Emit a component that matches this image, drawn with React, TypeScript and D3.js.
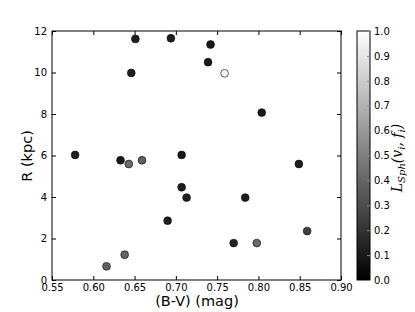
import React, { useEffect, useRef } from "react";
import * as d3 from "d3";

// (B-V) colour, radius R (kpc) and L_Sph value for each point
const bv = [0.578, 0.616, 0.633, 0.638, 0.643, 0.646, 0.651, 0.659, 0.690, 0.694, 0.707, 0.707, 0.713, 0.739, 0.742, 0.759, 0.770, 0.784, 0.798, 0.804, 0.849, 0.859];
const rad = [6.03, 0.66, 5.77, 1.22, 5.59, 9.98, 11.62, 5.77, 2.86, 11.65, 6.03, 4.47, 3.97, 10.5, 11.35, 9.96, 1.78, 3.97, 1.78, 8.07, 5.59, 2.36];
const lsph = [0.12, 0.38, 0.1, 0.4, 0.42, 0.12, 0.12, 0.38, 0.12, 0.12, 0.1, 0.12, 0.12, 0.1, 0.1, 0.95, 0.14, 0.12, 0.42, 0.1, 0.12, 0.25];

const xTicks = [0.55, 0.6, 0.65, 0.7, 0.75, 0.8, 0.85, 0.9];
const yTicks = [0, 2, 4, 6, 8, 10, 12];
const cTicks = [0, 0.1, 0.2, 0.3, 0.4, 0.5, 0.6, 0.7, 0.8, 0.9, 1.0];

const App = () => {
    const ref = useRef<SVGSVGElement>(null);

    useEffect(() => {
        const svg = d3.select(ref.current);
        svg.selectAll("*").remove();

        const W = 415, H = 312;
        const m = { left: 52, right: 341, top: 31, bottom: 280 };

        const x = d3.scaleLinear().domain([0.55, 0.9]).range([m.left, m.right]);
        const y = d3.scaleLinear().domain([0, 12]).range([m.bottom, m.top]);
        const gray = (v: number) => d3.interpolateRgb("#000", "#fff")(v);

        svg.attr("width", W).attr("height", H).style("font-family", "'DejaVu Sans', sans-serif");

        // frame
        svg.append("rect")
            .attr("x", m.left).attr("y", m.top)
            .attr("width", m.right - m.left).attr("height", m.bottom - m.top)
            .attr("fill", "white").attr("stroke", "black").attr("stroke-width", 1);

        // axes, ticks pointing inward on all four sides
        const bottom = svg.append("g").attr("transform", `translate(0,${m.bottom})`)
            .call(d3.axisBottom(x).tickValues(xTicks).tickFormat(d3.format(".2f")).tickSizeInner(-4).tickSizeOuter(0).tickPadding(4));
        const top = svg.append("g").attr("transform", `translate(0,${m.top})`)
            .call(d3.axisTop(x).tickValues(xTicks).tickFormat(() => "").tickSizeInner(-4).tickSizeOuter(0));
        const left = svg.append("g").attr("transform", `translate(${m.left},0)`)
            .call(d3.axisLeft(y).tickValues(yTicks).tickFormat(d3.format("d")).tickSizeInner(-4).tickSizeOuter(0).tickPadding(5));
        const right = svg.append("g").attr("transform", `translate(${m.right},0)`)
            .call(d3.axisRight(y).tickValues(yTicks).tickFormat(() => "").tickSizeInner(-4).tickSizeOuter(0));
        [bottom, top, left, right].forEach(g => {
            g.select(".domain").remove();
            g.selectAll("text").attr("font-size", 10).attr("fill", "black").style("font-family", "'DejaVu Sans', sans-serif");
        });

        // points
        svg.append("g").selectAll("circle")
            .data(bv.map((b, i) => ({ b, r: rad[i], v: lsph[i] })))
            .enter().append("circle")
            .attr("cx", d => x(d.b))
            .attr("cy", d => y(d.r))
            .attr("r", 3.9)
            .attr("fill", d => gray(d.v))
            .attr("stroke", "black")
            .attr("stroke-width", 0.6);

        // labels
        svg.append("text")
            .attr("x", 197).attr("y", 306)
            .attr("text-anchor", "middle").attr("font-size", 14.5)
            .text("(B-V) (mag)");
        svg.append("text")
            .attr("transform", `translate(32,156) rotate(-90)`)
            .attr("text-anchor", "middle").attr("font-size", 14.5)
            .text("R (kpc)");

        // colorbar
        const cb = { x: 357, w: 13 };
        const c = d3.scaleLinear().domain([0, 1]).range([m.bottom, m.top]);
        const grad = svg.append("defs").append("linearGradient")
            .attr("id", "cbgrad").attr("x1", 0).attr("y1", 1).attr("x2", 0).attr("y2", 0);
        grad.append("stop").attr("offset", "0%").attr("stop-color", gray(0));
        grad.append("stop").attr("offset", "100%").attr("stop-color", gray(1));
        svg.append("rect")
            .attr("x", cb.x).attr("y", m.top).attr("width", cb.w).attr("height", m.bottom - m.top)
            .attr("fill", "url(#cbgrad)").attr("stroke", "black").attr("stroke-width", 1);
        const cAxis = svg.append("g").attr("transform", `translate(${cb.x + cb.w},0)`)
            .call(d3.axisRight(c).tickValues(cTicks).tickFormat(d3.format(".1f")).tickSizeInner(-3).tickSizeOuter(0).tickPadding(4));
        cAxis.select(".domain").remove();
        cAxis.selectAll("line").attr("stroke", "#888");
        cAxis.selectAll("text").attr("font-size", 10).attr("fill", "black").style("font-family", "'DejaVu Sans', sans-serif");

        const lab = svg.append("text")
            .attr("transform", `translate(402,158) rotate(-90)`)
            .attr("text-anchor", "middle").attr("font-size", 14)
            .style("font-family", "'DejaVu Serif', serif").style("font-style", "italic");
        lab.append("tspan").text("L");
        lab.append("tspan").attr("font-size", 10).attr("dy", 3).text("Sph");
        lab.append("tspan").attr("dy", -3).text("(v");
        lab.append("tspan").attr("font-size", 10).attr("dy", 3).text("i");
        lab.append("tspan").attr("dy", -3).text(", f");
        lab.append("tspan").attr("font-size", 10).attr("dy", 3).text("i");
        lab.append("tspan").attr("dy", -3).text(")");
    }, []);

    return <svg ref={ref} style={{ position: "absolute", left: 0, top: 0 }} />;
};

export default App;
